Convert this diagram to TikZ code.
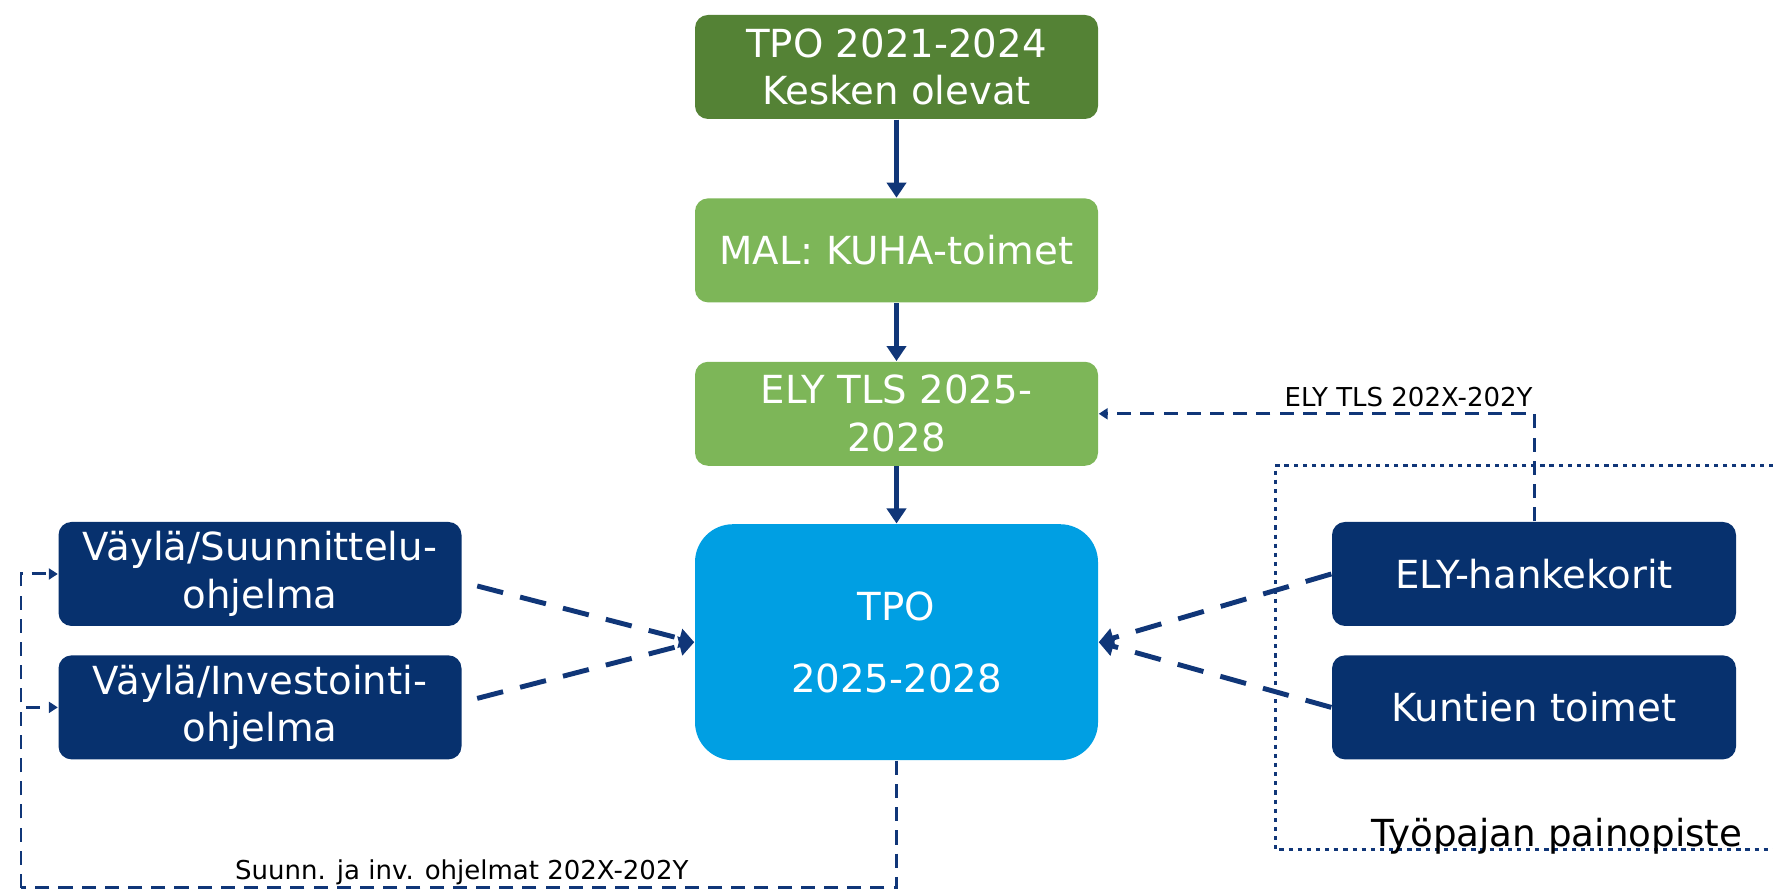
\documentclass[tikz,border=0pt]{standalone}
\usepackage{fontspec}
\setmainfont{DejaVu Sans}
\usetikzlibrary{arrows.meta, positioning, calc}

\begin{document}
\begin{tikzpicture}
    [
        box/.style={rounded corners=0.13cm, minimum width=4.03cm, minimum height=1.04cm, inner sep=0pt,
            text=white, align=center, font=\fontsize{11}{13.6}\selectfont},
        flow/.style={draw=lineBlue, line width=1.3pt, -{Triangle[width=0.19cm,length=0.15cm]}},
        feed/.style={flow, line width=1.4pt, dash pattern=on 7.6pt off 5pt},
        loop/.style={draw=lineBlue, line width=0.85pt, dash pattern=on 4pt off 2.6pt},
        loopend/.style={loop, -{Triangle[width=0.11cm,length=0.09cm]}},
        focus/.style={draw=lineBlue, line width=0.85pt, dash pattern=on 1.2pt off 1.4pt},
        note/.style={font=\fontsize{7.4}{9}\selectfont, inner sep=0pt},
        node distance=0.58cm
    ]
    \definecolor{darkGreen}{RGB}{84,130,53}
    \definecolor{lightGreen}{RGB}{125,182,88}
    \definecolor{tpoBlue}{RGB}{0,159,227}
    \definecolor{vaylaBlue}{RGB}{7,49,110}
    \definecolor{lineBlue}{RGB}{16,54,120}
    \useasboundingbox (0,0) rectangle (17.73,8.93);

    \node [box, fill=darkGreen] (old) at (8.965,8.26) {TPO 2021-2024\\Kesken olevat};
    \node [box, fill=lightGreen, below=0.78cm of old] (mal) {MAL: KUHA-toimet};
    \node [box, fill=lightGreen, below=of mal] (tls) {ELY TLS 2025-\\2028};
    \node [box, fill=tpoBlue, minimum height=2.36cm, rounded corners=0.38cm, below=0.57cm of tls] (tpo)
        {TPO\\[6.9pt]2025-2028};

    \node [box, fill=vaylaBlue] (suun) at (2.60,3.19) {Väylä/Suunnittelu-\\ohjelma};
    \node [box, fill=vaylaBlue, below=0.28cm of suun] (inv) {Väylä/Investointi-\\ohjelma};

    \node [box, fill=vaylaBlue, minimum width=4.04cm] (kori) at (15.34,3.19) {ELY-hankekorit};
    \node [box, fill=vaylaBlue, minimum width=4.04cm, below=0.28cm of kori] (kunta) {Kuntien toimet};

    \draw [focus] (17.73,4.27) -| (12.75,0.43) -- (17.73,0.43);
    \node [anchor=base east, inner sep=0pt, font=\fontsize{10.6}{12}\selectfont] (paino) at (17.43,0.46)
        {Työpajan painopiste};

    \draw [flow] (old) -- (mal);
    \draw [flow] (mal) -- (tls);
    \draw [flow] (tls) -- (tpo);

    \draw [feed] ([xshift=0.15cm,yshift=-0.12cm]suun.east) -- (tpo.west);
    \draw [feed] ([xshift=0.15cm,yshift=0.09cm]inv.east) -- (tpo.west);
    \draw [feed] (kori.west) -- (tpo.east);
    \draw [feed] (kunta.west) -- (tpo.east);

    \draw [loopend] (kori.north) |- node [note, anchor=base east, yshift=0.07cm] (tlsnote)
        {ELY TLS 202X-202Y} (tls.east);

    \coordinate (back) at (0.21,0.05);
    \draw [loop] (tpo.south) |- node [note, pos=0.618, anchor=base east, yshift=0.08cm] (ohjnote)
        {Suunn. ja inv. ohjelmat 202X-202Y} (back);
    \draw [loopend] (back) |- (suun.west);
    \draw [loopend] (back) |- (inv.west);
\end{tikzpicture}
\end{document}
